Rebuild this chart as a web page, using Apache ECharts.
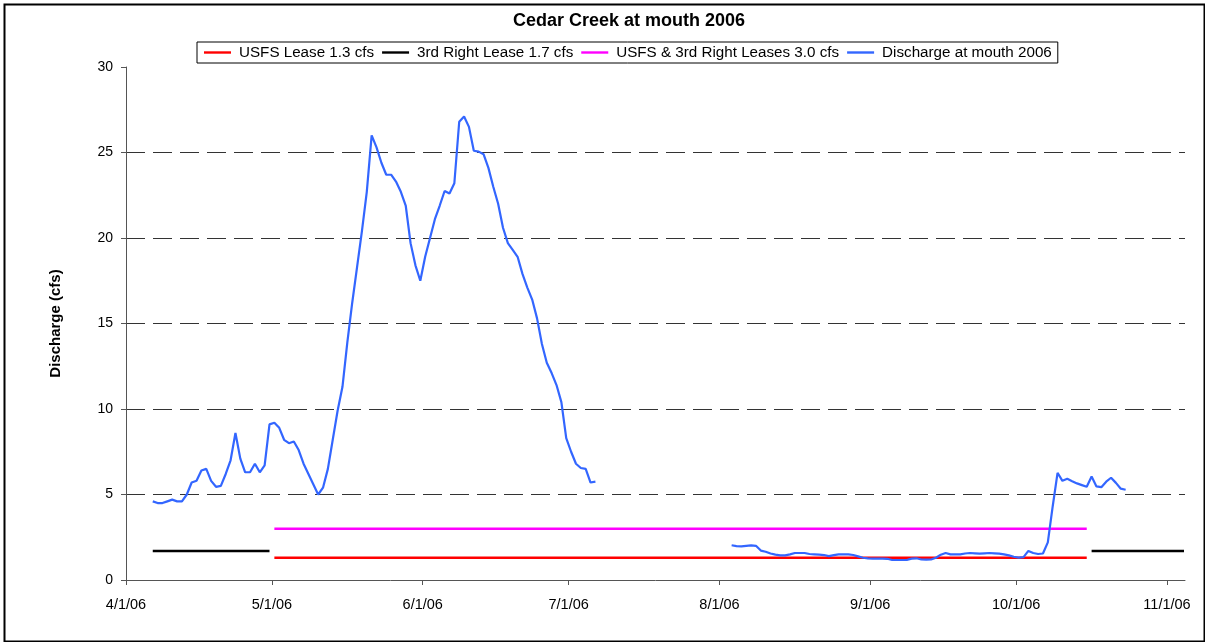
<!DOCTYPE html>
<html>
<head>
<meta charset="utf-8">
<script src="https://cdn.jsdelivr.net/npm/echarts@6/dist/echarts.min.js"></script>
<style>
html,body{margin:0;padding:0;background:#fff;}
#c{width:1205px;height:642px;}
</style>
</head>
<body>
<div id="c"></div>
<script>
// ---- data ----
const axisStart = '2006-04-01';
const tickDates = ['2006-04-01','2006-05-01','2006-06-01','2006-07-01','2006-08-01','2006-09-01','2006-10-01','2006-11-01'];
const tickLabels = ['4/1/06','5/1/06','6/1/06','7/1/06','8/1/06','9/1/06','10/1/06','11/1/06'];

const seriesNames = ['USFS Lease 1.3 cfs','3rd Right Lease 1.7 cfs','USFS & 3rd Right Leases 3.0 cfs','Discharge at mouth 2006'];

// daily discharge, 4/6/06 - 7/6/06
const springStart = '2006-04-06';
const springFlow = [
  4.6,4.5,4.5,4.6,4.7,4.6,4.6,5.0,5.7,5.8,
  6.4,6.5,5.8,5.45,5.5,6.2,7.0,8.6,7.1,6.3,
  6.3,6.8,6.3,6.7,9.1,9.2,8.9,8.2,8.0,8.1,
  7.6,6.8,6.2,5.6,5.0,5.4,6.5,8.2,9.9,11.3,
  13.9,16.2,18.3,20.4,22.7,26.0,25.3,24.4,23.7,23.7,
  23.3,22.7,21.9,19.7,18.4,17.5,18.9,20.0,21.1,21.9,
  22.75,22.6,23.2,26.8,27.1,26.5,25.1,25.05,24.9,24.1,
  23.0,22.0,20.6,19.7,19.3,18.9,17.9,17.1,16.4,15.3,
  13.8,12.7,12.1,11.4,10.4,8.3,7.5,6.8,6.55,6.5,
  5.7,5.75
];
// daily discharge, 8/3/06 - 10/23/06
const fallStart = '2006-08-03';
const fallFlow = [
  2.03,1.98,1.97,2.0,2.03,2.0,1.72,1.65,1.55,1.48,
  1.44,1.44,1.5,1.58,1.58,1.58,1.52,1.5,1.48,1.46,
  1.4,1.45,1.5,1.5,1.5,1.46,1.38,1.3,1.27,1.25,
  1.25,1.25,1.24,1.17,1.17,1.17,1.17,1.25,1.27,1.2,
  1.19,1.2,1.3,1.48,1.58,1.5,1.5,1.5,1.55,1.58,
  1.56,1.54,1.56,1.58,1.56,1.54,1.5,1.44,1.36,1.31,
  1.34,1.7,1.58,1.52,1.55,2.2,4.3,6.27,5.8,5.92,
  5.78,5.65,5.55,5.45,6.05,5.47,5.43,5.75,5.98,5.68,
  5.34,5.28
];

const usfsLease = 1.3;
const rightLease = 1.7;
const combinedLease = 3.0;
const usfsPeriod = ['2006-05-01','2006-10-15'];
const rightPeriods = [['2006-04-06','2006-04-30'],['2006-10-16','2006-11-04']];

// ---- helpers ----
function dayOf(s){
  const p = s.split('-').map(Number);
  const a = axisStart.split('-').map(Number);
  return (Date.UTC(p[0],p[1]-1,p[2]) - Date.UTC(a[0],a[1]-1,a[2])) / 86400000;
}
const mid = 0.5; // daily values sit in the middle of their day
const tickDays = tickDates.map(dayOf);
const labelByDay = {};
tickDays.forEach((d,i)=>{ labelByDay[d] = tickLabels[i]; });

function daily(start, vals){
  const s = dayOf(start);
  return vals.map((v,i)=>[s+i+mid, v]);
}
const spring = daily(springStart, springFlow);
const fall = daily(fallStart, fallFlow);
const dischargeData = spring.concat([[spring[spring.length-1][0]+1, null]], fall);

function flat(period, v){ return [[dayOf(period[0])+mid, v],[dayOf(period[1])+mid, v]]; }
const rightData = flat(rightPeriods[0], rightLease)
  .concat([[dayOf(rightPeriods[0][1])+mid+1, null]], flat(rightPeriods[1], rightLease));

const colors = ['#FF0000','#000000','#FF00FF','#3366FF'];
const font = 'Liberation Sans, Arial, sans-serif';
const lineIcon = 'path://M0,0L27,0L27,2.4L0,2.4Z';

const chart = echarts.init(document.getElementById('c'), null, {renderer:'canvas'});
chart.setOption({
  animation:false,
  backgroundColor:'#ffffff',
  color: colors,
  title:{
    text:'Cedar Creek at mouth 2006',
    left:624, top:7, textAlign:'center',
    textStyle:{fontFamily:font, fontSize:18, fontWeight:'bold', color:'#000'}
  },
  legend:{
    data: seriesNames.map(n=>({name:n, icon:lineIcon})),
    left:197, top:42,
    borderColor:'#000', borderWidth:1,
    padding:[3,6,3,7],
    itemWidth:27, itemHeight:14, itemGap:8,
    textStyle:{fontFamily:font, fontSize:15.2, color:'#000', padding:[0,0,0,3]}
  },
  graphic:[{
    type:'rect', left:2, top:2, silent:true,
    shape:{width:1200, height:637},
    style:{fill:'none', stroke:'#000', lineWidth:2}
  }],
  grid:{left:126, right:20, top:67, bottom:62},
  xAxis:{
    type:'value', min:0, max:217.7,
    axisLine:{show:true, lineStyle:{color:'#555', width:1}},
    axisTick:{show:true, length:5, customValues: tickDays, lineStyle:{color:'#555'}},
    axisLabel:{
      customValues: tickDays, margin:17,
      fontFamily:font, fontSize:14.5, color:'#000',
      formatter:(v)=> labelByDay[v] || ''
    },
    splitLine:{show:false}
  },
  yAxis:{
    type:'value', min:0, max:30, interval:5,
    name:'Discharge (cfs)', nameLocation:'middle', nameGap:63,
    nameTextStyle:{fontFamily:font, fontSize:15, fontWeight:'bold', color:'#000'},
    axisLine:{show:true, lineStyle:{color:'#555', width:1}},
    axisTick:{show:true, length:5, lineStyle:{color:'#555'}},
    axisLabel:{margin:13, fontFamily:font, fontSize:14, color:'#000'},
    splitLine:{show:true, showMinLine:false, showMaxLine:false,
      lineStyle:{color:'#333', width:1, type:[19,8]}}
  },
  series:[
    {name:seriesNames[0], type:'line', symbol:'none', data:flat(usfsPeriod, usfsLease),
     lineStyle:{width:2.4, color:colors[0]}},
    {name:seriesNames[1], type:'line', symbol:'none', data:rightData,
     lineStyle:{width:2.4, color:colors[1]}},
    {name:seriesNames[2], type:'line', symbol:'none', data:flat(usfsPeriod, combinedLease),
     lineStyle:{width:2.4, color:colors[2]}},
    {name:seriesNames[3], type:'line', symbol:'none', data:dischargeData,
     lineStyle:{width:2.2, color:colors[3]}}
  ]
});
</script>
</body>
</html>
